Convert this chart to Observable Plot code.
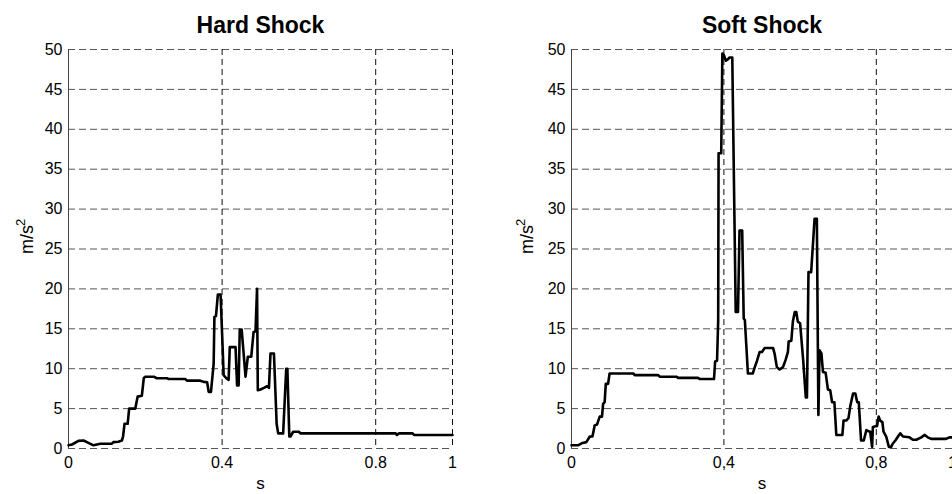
<!DOCTYPE html>
<html>
<head>
<meta charset="utf-8">
<script src="https://cdn.jsdelivr.net/npm/d3@7"></script>
<script src="https://cdn.jsdelivr.net/npm/@observablehq/plot@0.6"></script>
<style>
  html, body { margin: 0; padding: 0; background: #fff; }
  #wrap { display: flex; flex-direction: row; width: 952px; height: 494px; overflow: hidden; }
  #wrap svg { display: block; flex: none; }
</style>
</head>
<body>
<div id="wrap"></div>
<script>
// ---- data ----
const hardT = [0, 0.009, 0.026, 0.039, 0.052, 0.065, 0.074, 0.083, 0.113, 0.117, 0.13, 0.139, 0.142, 0.146, 0.154, 0.158, 0.174, 0.18, 0.191, 0.196, 0.2, 0.222, 0.23, 0.257, 0.261, 0.304, 0.309, 0.343, 0.352, 0.361, 0.365, 0.371, 0.378, 0.38, 0.384, 0.389, 0.396, 0.4, 0.404, 0.411, 0.417, 0.42, 0.435, 0.439, 0.443, 0.446, 0.451, 0.461, 0.467, 0.476, 0.482, 0.487, 0.491, 0.493, 0.5, 0.509, 0.517, 0.522, 0.526, 0.535, 0.542, 0.546, 0.559, 0.567, 0.57, 0.575, 0.578, 0.585, 0.6, 0.604, 0.852, 0.855, 0.861, 0.896, 0.9, 1.0];
const hardA = [0.4, 0.5, 0.95, 1.0, 0.7, 0.4, 0.5, 0.6, 0.6, 0.8, 0.85, 1.0, 1.5, 3.1, 3.1, 5.0, 5.0, 6.5, 6.6, 8.8, 9.0, 9.0, 8.8, 8.8, 8.7, 8.7, 8.5, 8.5, 8.35, 8.3, 7.1, 7.1, 10.6, 16.5, 16.6, 19.3, 19.3, 14.4, 9.2, 8.8, 8.6, 12.7, 12.7, 7.9, 7.9, 14.9, 14.9, 9.0, 11.5, 11.5, 14.6, 14.7, 20.0, 7.3, 7.4, 7.6, 7.8, 7.6, 11.9, 11.9, 3.1, 1.9, 1.9, 10.0, 10.0, 1.5, 1.5, 2.1, 2.1, 1.9, 1.9, 1.7, 1.9, 1.9, 1.7, 1.7];

const softT = [0, 0.017, 0.029, 0.039, 0.048, 0.055, 0.061, 0.067, 0.074, 0.08, 0.083, 0.087, 0.09, 0.096, 0.1, 0.162, 0.166, 0.227, 0.232, 0.275, 0.28, 0.332, 0.337, 0.374, 0.377, 0.382, 0.385, 0.386, 0.393, 0.396, 0.4, 0.405, 0.411, 0.415, 0.422, 0.431, 0.437, 0.441, 0.448, 0.452, 0.455, 0.463, 0.476, 0.481, 0.487, 0.494, 0.5, 0.507, 0.529, 0.533, 0.539, 0.546, 0.555, 0.562, 0.568, 0.57, 0.577, 0.581, 0.586, 0.59, 0.594, 0.6, 0.608, 0.615, 0.618, 0.622, 0.629, 0.638, 0.644, 0.648, 0.651, 0.656, 0.66, 0.667, 0.673, 0.679, 0.684, 0.69, 0.695, 0.711, 0.714, 0.721, 0.727, 0.732, 0.739, 0.745, 0.75, 0.754, 0.76, 0.767, 0.774, 0.778, 0.784, 0.789, 0.791, 0.798, 0.802, 0.806, 0.81, 0.816, 0.819, 0.826, 0.833, 0.839, 0.843, 0.85, 0.857, 0.863, 0.87, 0.887, 0.896, 0.905, 0.918, 0.927, 0.935, 0.944, 0.983, 0.992, 1.0];
const softA = [0.4, 0.4, 0.7, 0.8, 1.5, 1.5, 2.9, 3.0, 4.0, 4.0, 5.6, 5.8, 8.1, 8.1, 9.4, 9.4, 9.2, 9.2, 9.0, 9.0, 8.85, 8.85, 8.7, 8.7, 10.9, 11.0, 16.0, 37.0, 37.0, 49.5, 49.3, 48.6, 48.8, 49.0, 49.0, 17.1, 17.1, 27.3, 27.3, 16.3, 16.1, 9.4, 9.4, 10.2, 11.0, 12.1, 12.1, 12.6, 12.6, 11.9, 10.2, 9.9, 10.2, 11.1, 12.1, 13.4, 13.5, 15.9, 17.1, 17.1, 15.9, 15.7, 11.1, 6.4, 6.4, 22.1, 22.1, 28.8, 28.8, 4.2, 12.3, 11.9, 9.6, 9.5, 7.4, 7.3, 5.8, 5.8, 1.7, 1.7, 3.5, 3.5, 3.8, 5.4, 6.9, 6.9, 5.8, 5.8, 1.0, 1.0, 2.3, 2.2, 2.1, 0.2, 2.7, 2.8, 2.8, 4.0, 3.5, 3.3, 2.1, 1.5, 0.2, 0.2, 0.6, 1.0, 1.5, 1.9, 1.5, 1.4, 1.1, 1.1, 1.4, 1.7, 1.4, 1.2, 1.2, 1.4, 1.4];

const yTicks = [0, 5, 10, 15, 20, 25, 30, 35, 40, 45, 50];
const xTicks = [0, 0.4, 0.8, 1];
const xTickLabelsHard = ["0", "0.4", "0.8", "1"];
const xTickLabelsSoft = ["0", "0,4", "0,8", "1"];
const titles = ["Hard Shock", "Soft Shock"];
const yLabelBase = "m/s";
const yLabelSup = "2";
const xLabel = "s";

const FONT = "'Liberation Sans', Arial, Helvetica, sans-serif";

function panel({t, a, title, tickLabels, marginLeft, marginRight, baseDx, supDx}) {
  const data = t.map((x, i) => ({x, y: a[i]}));
  return Plot.plot({
    width: 476,
    height: 494,
    marginTop: 49,
    marginBottom: 46,
    marginLeft,
    marginRight,
    style: {fontFamily: FONT, fontSize: "16px", background: "white", color: "#000", overflow: "visible"},
    x: {domain: [0, 1]},
    y: {domain: [0, 50]},
    marks: [
      Plot.ruleY(yTicks, {stroke: "#555", strokeWidth: 1, strokeDasharray: "7,4"}),
      Plot.ruleX(xTicks.slice(1), {stroke: "#111", strokeWidth: 1, strokeDasharray: "6,4"}),
      Plot.ruleX([0], {stroke: "#444", strokeWidth: 1}),
      Plot.axisY({ticks: yTicks, tickSize: 0, tickPadding: 6, label: null, fontSize: 16}),
      Plot.axisX({ticks: xTicks, tickSize: 0, tickPadding: 8, label: null, fontSize: 16,
                  tickFormat: (d) => tickLabels[xTicks.indexOf(d)]}),
      Plot.line(data, {x: "x", y: "y", stroke: "#000", strokeWidth: 2.6, strokeLinejoin: "round", strokeLinecap: "round"}),
      Plot.text([title], {text: (d) => d, frameAnchor: "top", dy: -24, fontSize: 23, fontWeight: "bold", lineAnchor: "middle"}),
      Plot.text([yLabelBase], {text: (d) => d, frameAnchor: "left", dx: baseDx, dy: 5, rotate: -90, fontSize: 18, lineAnchor: "middle"}),
      Plot.text([yLabelSup], {text: (d) => d, frameAnchor: "left", dx: supDx, dy: -23, rotate: -90, fontSize: 13, lineAnchor: "middle"}),
      Plot.text([xLabel], {text: (d) => d, frameAnchor: "bottom", dy: 35, fontSize: 17, lineAnchor: "middle"})
    ]
  });
}

const wrap = document.getElementById("wrap");
wrap.append(panel({t: hardT, a: hardA, title: titles[0], tickLabels: xTickLabelsHard, marginLeft: 68, marginRight: 24, baseDx: -41, supDx: -48}));
wrap.append(panel({t: softT, a: softA, title: titles[1], tickLabels: xTickLabelsSoft, marginLeft: 95, marginRight: 0, baseDx: -44, supDx: -51}));
</script>
</body>
</html>
